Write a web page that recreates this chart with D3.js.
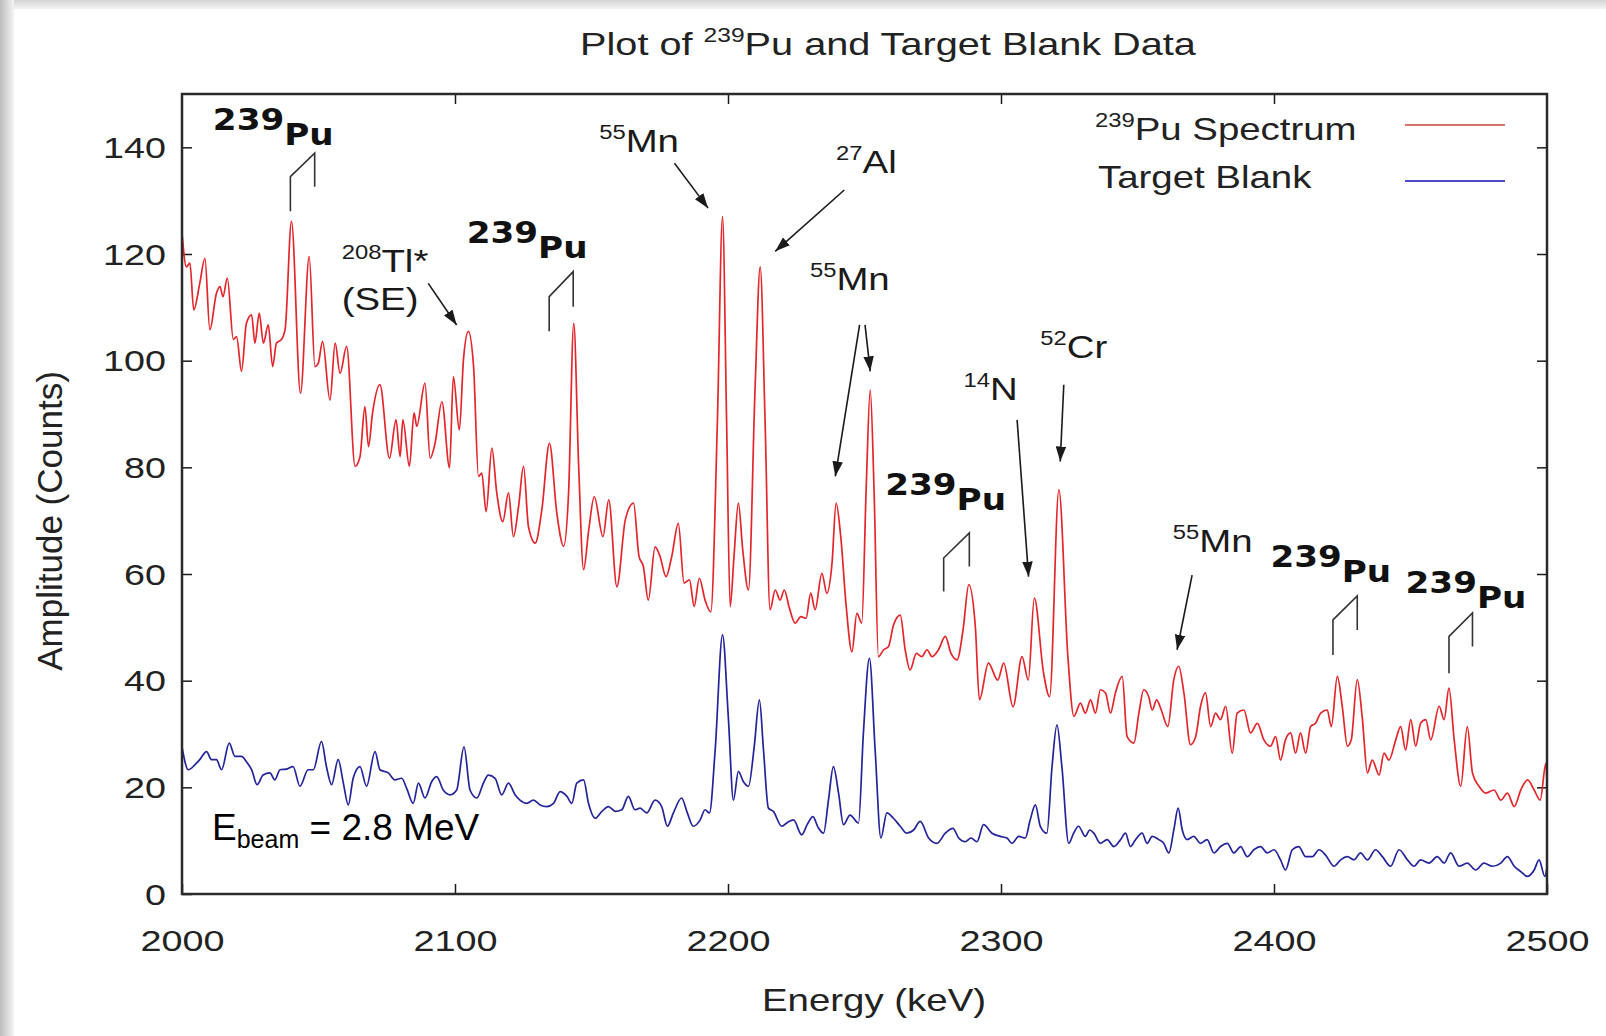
<!DOCTYPE html>
<html>
<head>
<meta charset="utf-8">
<script src="https://cdn.jsdelivr.net/npm/d3@7/dist/d3.min.js"></script>
<style>
  body { margin: 0; background: #fff; }
  svg { display: block; font-family: 'Liberation Sans', Arial, sans-serif; }
  text { white-space: pre; }
</style>
</head>
<body>
<svg id="chart" width="1606" height="1036"></svg>
<script>
// spectra, [energy keV, counts]
const puSpectrum = [
  [2000,124],[2001.6,117.6],[2002.9,118.3],[2004.3,109.5],[2006.5,114.5],[2008.4,119.2],[2010.2,105.8],
  [2012.6,112.6],[2013.9,113.9],[2015,112],[2016.6,115.5],[2018.8,104],[2020,104.5],[2021.8,98],
  [2023.6,107],[2025.5,108.6],[2026.7,103.3],[2028.3,108.9],[2029.8,103.3],[2031.6,106.7],[2033.2,98.9],
  [2034.6,103.3],[2036.5,104],[2037.8,106],[2040.1,126.1],[2043.4,93.9],[2046.6,119.5],[2048.7,98.9],
  [2049.9,99.5],[2051.5,103.6],[2054.2,92.6],[2056.1,103.3],[2057.9,97.6],[2060.3,102.7],[2063.4,80.2],
  [2065.2,82],[2067,91.4],[2068.3,83.9],[2069.8,90.2],[2072.5,95.5],[2076,81.7],[2078.4,88.9],
  [2079.9,82],[2080.9,88.9],[2083.3,80.2],[2085,90.2],[2086,87.7],[2089,95.8],[2090.9,81.7],
  [2092.7,84.5],[2095.2,92.3],[2098,79.9],[2099.4,97],[2101.6,87],[2103.1,100.2],[2104.9,105.5],
  [2106.8,98.9],[2108.6,78.3],[2109.8,78.9],[2111.4,71.7],[2113.5,83.6],[2115.3,75.2],[2117.5,69.8],
  [2119.6,75.2],[2121.4,67],[2123.3,72.7],[2125.1,80.2],[2126.9,68.9],[2129.4,65.8],[2131.8,72],
  [2134.6,84.5],[2137.3,71.4],[2139.8,65.2],[2141.6,75.2],[2143.5,107],[2145.3,80.2],[2147.1,60.8],
  [2149,68.3],[2151,74.5],[2154.2,67],[2156.3,73.9],[2159.3,57.6],[2162.4,70.2],[2165.4,73.3],
  [2167.4,63.3],[2169,61.4],[2170.8,55.1],[2173.3,65.1],[2175.1,63.3],[2177.3,59.5],[2179.4,63.3],
  [2181.8,69.5],[2183.9,58.3],[2185.9,58.9],[2187.6,53.9],[2189.5,59.2],[2191.6,55.1],[2193.7,52.9],
  [2196.1,88.3],[2198,127],[2199.5,88.3],[2200.8,53.9],[2202.2,63.3],[2203.8,73.3],[2205.4,64.5],
  [2207.5,57],[2209.9,94.5],[2211.8,117.6],[2213.6,88.3],[2215.4,53.3],[2217.3,57],[2219.1,55.1],
  [2220.6,57],[2222.5,53.6],[2224.6,50.8],[2226.7,52],[2228.6,51.7],[2230.3,56.4],[2231.9,53.3],
  [2234.4,60.1],[2236.2,56.4],[2238.1,62],[2239.6,73.3],[2241.3,67],[2243.3,53.9],[2245.4,45.4],
  [2247.2,52.6],[2249,50.8],[2250.6,75.8],[2252.1,94.5],[2253.5,75.8],[2255.1,44.5],[2257,45.8],
  [2258.8,46.4],[2260.6,50.4],[2263.1,52.3],[2264.9,45.8],[2266.7,42],[2269,45.1],[2271,44.5],
  [2272.9,45.8],[2274.7,44.5],[2277.1,45.8],[2279.6,48.3],[2281.7,45.1],[2283.9,43.9],[2286.1,49.5],
  [2288.2,58],[2290.6,50.1],[2292.1,36.4],[2295.4,43.3],[2298.8,40.1],[2301,43.3],[2304.4,35.1],
  [2307.7,44.5],[2310,40.1],[2312.2,55.5],[2315.6,41.4],[2317.8,37],[2321.2,75.8],[2324.5,44.5],
  [2326.7,33.3],[2329.1,35.8],[2330.9,33.9],[2332.8,36.4],[2334.6,33.9],[2336.4,38.3],[2338.3,37.7],
  [2340.1,33.9],[2341.9,37.7],[2344.4,40.8],[2346.2,29.5],[2348.7,28.3],[2350.5,33.9],[2352.3,38.3],
  [2354.1,37],[2355.4,34.5],[2357,36.4],[2358.7,34.5],[2361.1,31.4],[2363.3,40.2],[2365.1,42.7],
  [2367,37.7],[2369.4,28],[2371.3,29.5],[2373.1,35.2],[2374.9,37.7],[2376.8,31.4],[2378.6,33.9],
  [2380.4,32.7],[2382.3,35.2],[2384.7,26.4],[2386.5,33.9],[2389,34.5],[2391.4,30.2],[2393.9,32],
  [2396.3,28.9],[2398.7,27.7],[2400.6,29.5],[2402.4,25.1],[2404.2,28.9],[2406.1,30.2],[2407.9,26.4],
  [2409.7,30.2],[2411.6,26.4],[2413.4,31.4],[2415.2,32],[2417.1,33.9],[2419.5,34.5],[2421,31.4],
  [2423.2,40.8],[2425,35.2],[2426.9,27.7],[2428.3,28.9],[2430.5,40.2],[2432.4,32.7],[2434.2,22.7],
  [2436,25.1],[2438.5,22.3],[2440.3,26.4],[2442.1,25.1],[2444.6,28.9],[2446.4,31.4],[2448.2,27],
  [2450.1,32.7],[2451.9,27.7],[2453.7,32],[2455.6,32.7],[2457.4,28.9],[2460.5,35.2],[2462.3,32.7],
  [2464.1,38.6],[2466,28.9],[2468.4,20.2],[2470.8,31.4],[2472.7,22.7],[2475.1,20.2],[2477.6,18.9],
  [2480.6,19.5],[2483.1,17.6],[2485.5,18.9],[2488,16.4],[2490.4,19.5],[2492.9,21.4],[2495.3,19.5],
  [2497.5,17.6],[2499.6,24.5],[2500,21]
]

const targetBlank = [
  [2000,27.6],[2002.3,23.3],[2004.7,24.2],[2006.5,25.2],[2009,26.7],[2010.8,25.2],[2012.6,25.2],
  [2014.5,23.3],[2017.3,28.3],[2019.4,25.8],[2021.8,25.8],[2023.6,24.8],[2025.5,23.3],[2027.5,20.5],
  [2029.7,22.3],[2032.2,22.7],[2034,21.4],[2035.9,23.3],[2038.1,23.4],[2040.7,23.9],[2043.2,20.2],
  [2046.2,23.3],[2048.1,23.3],[2051.1,28.6],[2052.9,23.9],[2054.8,20.5],[2057.2,25.2],[2059.1,20.8],
  [2060.9,16.7],[2062.7,21.7],[2065.2,23.9],[2067.6,20.2],[2070.7,26.7],[2072.5,23.3],[2075.6,22.7],
  [2078,21.4],[2080.5,21.7],[2082.3,19.8],[2084.7,17],[2086.6,20.8],[2089,18],[2091.5,21.1],
  [2093.3,22],[2095.7,19.5],[2098.2,18.6],[2100.6,19.5],[2103.3,27.6],[2105.5,19.5],[2108,18],
  [2110.4,20.8],[2112.2,22.3],[2114.7,21.7],[2117.1,18.6],[2119.6,20.8],[2122,18.6],[2123.8,17.6],
  [2126.3,17],[2128.7,17.6],[2131.2,16.7],[2133.6,16.4],[2136.1,17],[2138.5,19.2],[2141,18.3],
  [2142.8,17],[2144.6,20.8],[2147.1,21.4],[2148.9,17],[2151.3,14.2],[2153.8,15.5],[2156.2,16.4],
  [2158.7,15.5],[2161.1,15.8],[2163.5,18.3],[2165.9,15.8],[2167.8,16.1],[2170.2,15.2],[2173.3,17.6],
  [2175.7,16.4],[2177.8,12.7],[2180,15.2],[2183,18],[2185.1,15.2],[2187.3,12.7],[2189.8,13.9],
  [2191.6,15.8],[2193.2,15.2],[2195.3,27],[2198,48.6],[2200.1,33.3],[2202,17.6],[2203.8,23],
  [2205.6,21.1],[2207.5,20.2],[2209.6,27.6],[2211.5,36.4],[2213,27],[2214.8,16.1],[2216.6,15.5],
  [2219.7,12.7],[2222,13.5],[2224,13.9],[2227,11.1],[2229,13],[2231.1,14.5],[2233,12.5],
  [2235,11.4],[2236.8,17.6],[2238.6,23.9],[2240.5,18.9],[2242.3,13],[2244.7,14.8],[2247.8,13.3],
  [2249.6,30.2],[2251.8,44.2],[2253.9,27],[2256,10.5],[2258.2,15.2],[2260.6,14.2],[2263.1,12.7],
  [2265.5,11.4],[2268,12],[2270.4,13.6],[2273.5,10.5],[2276.5,9.5],[2279.6,11.4],[2282.4,12.3],
  [2284.5,10.5],[2286.9,9.8],[2289,10.5],[2291.2,9.8],[2293.6,13],[2296.7,11.4],[2299.7,10.8],
  [2302.2,10.5],[2304,9.5],[2306.5,10.8],[2308.9,10.5],[2310.7,13.9],[2312.6,16.7],[2314.4,12.7],
  [2316.8,11.4],[2318.7,23.9],[2320.5,31.7],[2322.3,23.9],[2324.8,9.5],[2326.6,11.4],[2328.4,12.7],
  [2330.9,10.8],[2332.5,12],[2334,11.4],[2336.4,9.5],[2338.9,10.2],[2341.3,8.9],[2343.8,10.2],
  [2345.6,11.4],[2347.4,8.9],[2349.3,10.2],[2351.7,11.4],[2353.5,9.5],[2355.4,10.8],[2357.8,10.2],
  [2359.6,9.5],[2361.5,7.7],[2363.3,12],[2364.9,16.1],[2366.4,12],[2368.2,10.2],[2370.6,10.8],
  [2373.1,9.5],[2375.5,10.2],[2378,7.7],[2380.4,8.9],[2382.9,9.5],[2385.3,7.7],[2387.8,8.9],
  [2390.2,7],[2392.6,8.3],[2395.1,8.9],[2397.5,7.7],[2400,8.3],[2402.4,6.4],[2404.2,4.5],
  [2406.7,8.3],[2409.1,8.9],[2411.6,7],[2414,7],[2416.5,8.3],[2418.9,7.3],[2422,5.2],
  [2424.4,6.4],[2426.9,7],[2429.3,6.4],[2431.7,7.7],[2434.2,6.4],[2437.2,8.3],[2439.7,7],
  [2442.7,5.2],[2445.8,8.3],[2448.9,6.4],[2451.3,5.2],[2453.7,6.4],[2456.8,5.8],[2459.8,7],
  [2462.3,5.8],[2464.7,7.7],[2467.8,5.2],[2470.8,5.8],[2473.9,4.5],[2476.9,5.8],[2480,5.2],
  [2483.1,5.8],[2485.5,7],[2488,5.2],[2490.4,4.2],[2492.8,3.3],[2495.3,4.5],[2497.1,6.4],
  [2499.2,3.3],[2500,5]
]

const xTicks = [2000, 2100, 2200, 2300, 2400, 2500]
const yTicks = [0, 20, 40, 60, 80, 100, 120, 140]

// annotations, all in data units [keV, counts]
const puLabelAt = [[2011.3, 143.3], [2104.3, 122.0], [2257.6, 74.8], [2398.7, 61.4], [2448.2, 56.5]]
// left line x, right line x, left bottom, left top, right top, right bottom
const puBrackets = [
  [2039.7, 2048.6, 128, 134.5, 138.9, 132.6],
  [2134.5, 2143.3, 105.5, 112, 116.7, 110.1],
  [2279, 2288.4, 56.7, 63, 67.7, 61.4],
  [2421.6, 2430.5, 44.8, 51.4, 55.9, 49.5],
  [2464.1, 2472.7, 41.4, 48.3, 52.7, 46.4],
]
const isotopes = [
  {mass: '208', name: 'Tl*', note: '(SE)', at: [2058.5, 116.7]},
  {mass: '55', name: 'Mn', at: [2152.8, 139.2]},
  {mass: '27', name: 'Al', at: [2239.6, 135.2]},
  {mass: '55', name: 'Mn', at: [2230, 113.3]},
  {mass: '14', name: 'N', at: [2286.3, 92.6]},
  {mass: '52', name: 'Cr', at: [2314.4, 100.5]},
  {mass: '55', name: 'Mn', at: [2362.9, 64.2]},
]
const arrows = [
  [[2090.2, 114.5], [2100.6, 106.7]],
  [[2180.4, 137], [2192.7, 128.6]],
  [[2242.6, 132], [2217.3, 120.5]],
  [[2248.2, 106.7], [2239.3, 78.3]],
  [[2250.2, 106.7], [2252.1, 98]],
  [[2305.9, 88.9], [2310.1, 59.5]],
  [[2323, 95.5], [2321.7, 81.1]],
  [[2370, 59.8], [2364.5, 45.8]],
]
const seriesNames = ['Spectrum', 'Target Blank']

const plot = {left: 182, right: 1547, top: 94, bottom: 894}
const SX = 1.2   // the source figure is stretched sideways
const ink = '#1a1a1a'
const redColor = '#e3262b'
const blueColor = '#23239b'

const svg = d3.select('#chart')

// grey page edges of the original slide
const defs = svg.append('defs')
const gl = defs.append('linearGradient').attr('id', 'edgeL')
gl.append('stop').attr('offset', 0).attr('stop-color', '#bdbdbd')
gl.append('stop').attr('offset', 1).attr('stop-color', '#f4f4f4')
const gt = defs.append('linearGradient').attr('id', 'edgeT').attr('x2', 0).attr('y2', 1)
gt.append('stop').attr('offset', 0).attr('stop-color', '#d4d4d4')
gt.append('stop').attr('offset', 1).attr('stop-color', '#f2f2f2')
svg.append('rect').attr('width', 1606).attr('height', 1036).attr('fill', '#fff')
svg.append('rect').attr('width', 1606).attr('height', 9).attr('fill', 'url(#edgeT)')
svg.append('rect').attr('width', 14).attr('height', 1036).attr('fill', 'url(#edgeL)')

defs.append('clipPath').attr('id', 'plotClip')
  .append('rect')
  .attr('x', plot.left).attr('y', plot.top)
  .attr('width', plot.right - plot.left).attr('height', plot.bottom - plot.top)

defs.append('marker')
  .attr('id', 'head')
  .attr('viewBox', '0 0 10 7')
  .attr('refX', 10).attr('refY', 3.5)
  .attr('markerUnits', 'userSpaceOnUse')
  .attr('markerWidth', 15).attr('markerHeight', 10.5)
  .attr('orient', 'auto')
  .append('path')
  .attr('d', 'M0,0 L10,3.5 L0,7 Z')
  .attr('fill', ink)

const x = d3.scaleLinear().domain([2000, 2500]).range([plot.left, plot.right])
const y = d3.scaleLinear().domain([0, 150]).range([plot.bottom, plot.top])

// text with super/subscript pieces, stretched like the source
function label(parent, px, py, parts, size, opts = {}) {
  const t = parent.append('text')
    .attr('transform', `translate(${px},${py}) scale(${opts.sx ?? SX},1)`)
    .attr('font-size', size)
    .attr('text-anchor', opts.anchor ?? 'start')
    .attr('fill', opts.fill ?? ink)
  if (opts.family) t.attr('font-family', opts.family)
  if (opts.weight) t.attr('font-weight', opts.weight)
  let cur = 0
  parts.forEach(p => {
    const part = typeof p === 'string' ? {t: p} : p
    const off = part.dy ?? 0
    t.append('tspan')
      .attr('dy', off - cur)
      .attr('font-size', part.size ?? size)
      .text(part.t)
    cur = off
  })
  return t
}
const sup = (s, size) => ({t: s, size: size * 0.62, dy: -size * 0.4})

// title
label(svg, 888, 55, ['Plot of ', sup('239', 32), {t: 'Pu and Target Blank Data', dy: 0}], 32,
  {anchor: 'middle', fill: '#222', sx: 1.24})

// axes, ticks pointing inward on all four sides
const xAxis = svg.append('g')
  .attr('transform', `translate(0,${plot.bottom})`)
  .call(d3.axisBottom(x).tickValues(xTicks).tickFormat(d3.format('d'))
    .tickSizeInner(-10).tickSizeOuter(0).tickPadding(0))
  .attr('font-size', null).attr('font-family', null)
xAxis.select('.domain').remove()
xAxis.selectAll('.tick line').attr('stroke', ink).attr('stroke-width', 1.5)
xAxis.selectAll('.tick text')
  .attr('y', null).attr('dy', null)
  .attr('transform', `translate(0,57) scale(1.26,1)`)
  .attr('font-size', 30).attr('fill', '#222')

const yAxis = svg.append('g')
  .attr('transform', `translate(${plot.left},0)`)
  .call(d3.axisLeft(y).tickValues(yTicks).tickSizeInner(-10).tickSizeOuter(0).tickPadding(0))
  .attr('font-size', null).attr('font-family', null)
yAxis.select('.domain').remove()
yAxis.selectAll('.tick line').attr('stroke', ink).attr('stroke-width', 1.5)
yAxis.selectAll('.tick text')
  .attr('x', null).attr('dy', null)
  .attr('transform', `translate(-16,10) scale(1.3,1)`)
  .attr('font-size', 29).attr('fill', '#222')

const topAxis = svg.append('g')
  .attr('transform', `translate(0,${plot.top})`)
  .call(d3.axisTop(x).tickValues(xTicks.slice(1, -1)).tickSizeInner(-10).tickSizeOuter(0).tickFormat(''))
topAxis.select('.domain').remove()
topAxis.selectAll('.tick line').attr('stroke', ink).attr('stroke-width', 1.5)

const rightAxis = svg.append('g')
  .attr('transform', `translate(${plot.right},0)`)
  .call(d3.axisRight(y).tickValues(yTicks.slice(1)).tickSizeInner(-10).tickSizeOuter(0).tickFormat(''))
rightAxis.select('.domain').remove()
rightAxis.selectAll('.tick line').attr('stroke', ink).attr('stroke-width', 1.5)

// axis titles
svg.append('text')
  .attr('transform', 'translate(62,521) rotate(-90)')
  .attr('text-anchor', 'middle')
  .attr('font-size', 35)
  .attr('fill', '#222')
  .text('Amplitude (Counts)')
label(svg, 874, 1011, ['Energy (keV)'], 31, {anchor: 'middle', fill: '#222', sx: 1.24})

// spectra
const line = d3.line().x(d => x(d[0])).y(d => y(d[1])).curve(d3.curveMonotoneX)
const traces = svg.append('g').attr('clip-path', 'url(#plotClip)')
traces.append('path')
  .datum(puSpectrum)
  .attr('d', line)
  .attr('fill', 'none')
  .attr('stroke', redColor)
  .attr('stroke-width', 1.7)
  .attr('stroke-linejoin', 'round')
traces.append('path')
  .datum(targetBlank)
  .attr('d', line)
  .attr('fill', 'none')
  .attr('stroke', blueColor)
  .attr('stroke-width', 1.7)
  .attr('stroke-linejoin', 'round')

// frame
svg.append('rect')
  .attr('x', plot.left).attr('y', plot.top)
  .attr('width', plot.right - plot.left).attr('height', plot.bottom - plot.top)
  .attr('fill', 'none')
  .attr('stroke', '#2a2a2a')
  .attr('stroke-width', 2.5)

// legend
const legend = svg.append('g')
label(legend, 1095, 140, [sup('239', 32), {t: 'Pu ' + seriesNames[0], dy: 0}], 32, {fill: '#222'})
label(legend, 1098, 188, [seriesNames[1]], 32, {fill: '#222'})
legend.append('line').attr('x1', 1405).attr('x2', 1505).attr('y1', 125).attr('y2', 125)
  .attr('stroke', '#c8423e').attr('stroke-width', 1.6)
legend.append('line').attr('x1', 1405).attr('x2', 1505).attr('y1', 181).attr('y2', 181)
  .attr('stroke', '#4c4cc8').attr('stroke-width', 1.8)

// peak annotations
const notes = svg.append('g')
puLabelAt.forEach(d => {
  label(notes, x(d[0]), y(d[1]), ['239', {t: 'Pu', size: 30, dy: 15}], 30,
    {family: "'DejaVu Sans', Verdana, sans-serif", weight: 'bold', fill: '#111', sx: 1.14})
})
notes.selectAll('path.bracket')
  .data(puBrackets)
  .join('path')
  .attr('class', 'bracket')
  .attr('d', d => `M${x(d[0])},${y(d[2])} L${x(d[0])},${y(d[3])} L${x(d[1])},${y(d[4])} L${x(d[1])},${y(d[5])}`)
  .attr('fill', 'none')
  .attr('stroke', '#333')
  .attr('stroke-width', 1.6)

isotopes.forEach(d => {
  label(notes, x(d.at[0]), y(d.at[1]), [sup(d.mass, 32), {t: d.name, dy: 0}], 32)
  if (d.note) label(notes, x(d.at[0]), y(d.at[1]) + 38, [d.note], 32)
})

notes.selectAll('line.arrow')
  .data(arrows)
  .join('line')
  .attr('class', 'arrow')
  .attr('x1', d => x(d[0][0])).attr('y1', d => y(d[0][1]))
  .attr('x2', d => x(d[1][0])).attr('y2', d => y(d[1][1]))
  .attr('stroke', ink)
  .attr('stroke-width', 1.6)
  .attr('marker-end', 'url(#head)')

// beam energy note, added later on the slide so not stretched
label(svg, 212, 840, ['E', {t: 'beam', size: 25, dy: 8}, {t: ' = 2.8 MeV', dy: 0}], 37, {sx: 1, fill: '#000'})
</script>
</body>
</html>
